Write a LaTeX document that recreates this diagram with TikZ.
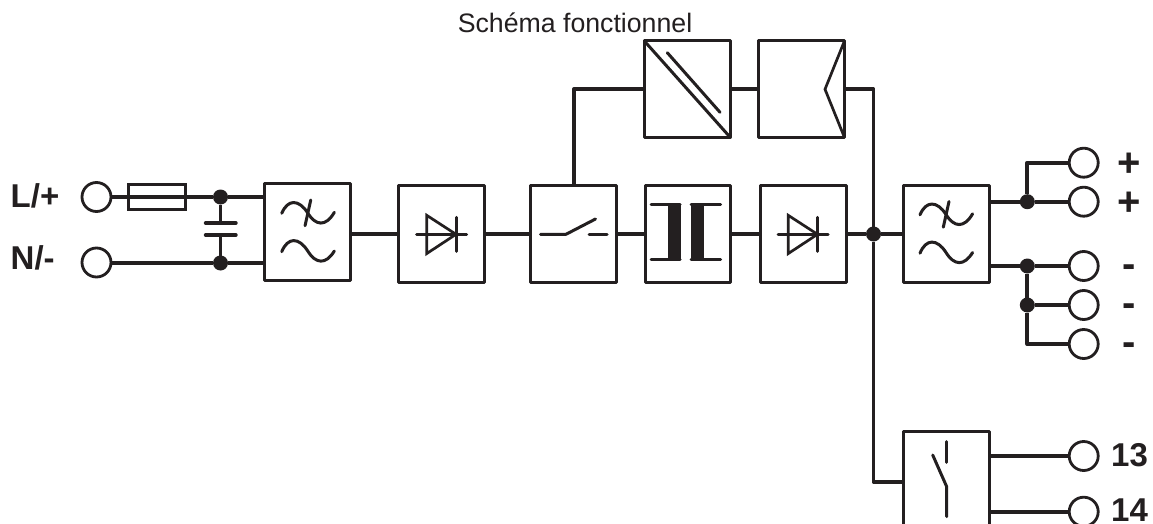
\documentclass[tikz,border=0pt]{standalone}
\usepackage{fontspec}
\setmainfont{Liberation Sans}
\definecolor{ink}{HTML}{231F20}
\tikzset{
  x=1pt,y=-1pt,
  blockbox/.style={draw=ink,line width=3pt,line join=round,minimum width=84pt,minimum height=94.5pt,inner sep=0pt,outer sep=0pt},
  wire/.style={draw=ink,line width=3.8pt,line join=round},
  sym/.style={draw=ink,line width=3pt,line join=round,line cap=round},
  thin sym/.style={draw=ink,line width=2.7pt,line join=miter},
  term/.style={circle,draw=ink,line width=2.8pt,fill=white,minimum size=29pt,inner sep=0pt,outer sep=0pt},
  dot/.style={circle,fill=ink,minimum size=15pt,inner sep=0pt,outer sep=0pt},
  lab/.style={font=\fontsize{33}{33}\selectfont\bfseries,text=ink,inner sep=0pt},
  biglab/.style={font=\fontsize{40}{40}\selectfont\bfseries,text=ink,inner sep=0pt},
  pics/filtersym/.style={code={
    \draw[sym] (-26,-18.7) .. controls (-20,-33) and (-9,-33) .. (0,-19) .. controls (8,-6) and (18,-5) .. (26.6,-19.7);
    \draw[sym] (3,-32) -- (-2.7,-6.3);
    \draw[sym] (-26,19.7) .. controls (-20,5) and (-9,5) .. (0,19) .. controls (8,32) and (18,33) .. (26.6,19);
  }},
  pics/diodesym/.style={code={
    \draw[thin sym] (-15.8,-19) -- (-15.8,19.3) -- (13.5,0) -- cycle;
    \draw[sym] (-25.8,0) -- (24.2,0);
    \draw[sym] (13.5,-17) -- (13.5,17);
  }}
}
\begin{document}
\begin{tikzpicture}
\useasboundingbox (0,0) rectangle (1153,524);
\fill[white] (0,0) rectangle (1153,524);

% terminals
\node[term] (tL) at (96.5,197) {};
\node[term] (tN) at (96.5,262.5) {};
\node[term] (o1) at (1083.7,162.7) {};
\node[term] (o2) at (1083.7,201.7) {};
\node[term] (o3) at (1083.7,266) {};
\node[term] (o4) at (1083.7,305) {};
\node[term] (o5) at (1083.7,344) {};
\node[term] (o6) at (1083.7,456) {};
\node[term] (o7) at (1083.7,511.7) {};

% blocks
\node[blockbox,minimum width=86pt,minimum height=96.5pt] (filtA) at (307.75,232) {};
\node[blockbox,minimum width=86pt,minimum height=96.5pt] (diodeA) at (441.75,234) {};
\node[blockbox,minimum width=85.5pt,minimum height=96.5pt] (switch) at (573.25,234) {};
\node[blockbox,minimum width=85.5pt,minimum height=96.5pt] (trafo) at (687.75,234) {};
\node[blockbox,minimum width=86pt,minimum height=96.5pt] (diodeB) at (803,234) {};
\node[blockbox,minimum width=86pt,minimum height=96.5pt] (filtB) at (946,234) {};
\node[blockbox,minimum width=86pt,minimum height=96.5pt] (conv) at (687.3,89.2) {};
\node[blockbox,minimum width=85.5pt,minimum height=96.5pt] (osc) at (801.7,89.2) {};
\node[minimum width=86pt,minimum height=93pt,inner sep=0pt,outer sep=0pt] (relay) at (946,477.5) {};
\draw[draw=ink,line width=3pt,line join=round] (relay.south west) -- (relay.north west) -- (relay.north east) -- (relay.south east);
\node[draw=ink,line width=3pt,minimum width=57pt,minimum height=25.5pt,inner sep=0pt,outer sep=0pt] (fuse) at (156.7,197) {};

% junctions
\node[dot] (jL) at (220.5,197) {};
\node[dot] (jN) at (220.5,263) {};
\node[dot] (jBus) at (873.5,234) {};
\node[dot] (jP) at (1027.3,201.7) {};
\node[dot] (jM1) at (1027.3,266) {};
\node[dot] (jM2) at (1027.3,305) {};
\coordinate (capT) at (220.5,223);
\coordinate (capB) at (220.5,235);
\coordinate (busTop) at (873.5,89.2);
\coordinate (busBot) at (873.5,481.7);
\coordinate (upL) at (574,89.2);

% connectors
\draw[wire] (tL.east) -- (jL);
\draw[wire] (jL) -- (filtA.west |- jL);
\draw[wire] (tN.east |- jN) -- (jN);
\draw[wire] (jN) -- (filtA.west |- jN);
\draw[wire] (jL) -- (capT);
\draw[wire] (capB) -- (jN);
\draw[wire] (filtA.east |- diodeA.west) -- (diodeA.west);
\draw[wire] (diodeA.east) -- (switch.west);
\draw[wire] (switch.east) -- (trafo.west);
\draw[wire] (trafo.east) -- (diodeB.west);
\draw[wire] (diodeB.east) -- (jBus);
\draw[wire] (jBus) -- (filtB.west);
\draw[wire] (switch.north -| upL) -- (upL) -- (conv.west);
\draw[wire] (conv.east) -- (osc.west);
\draw[wire] (osc.east) -- (busTop) -- (jBus);
\draw[wire] (jBus) -- (busBot) -- (relay.west |- busBot);
\draw[wire] (filtB.east |- jP) -- (jP);
\draw[wire] (jP) -- (o2.west);
\draw[wire] (jP) -- (jP |- o1) -- (o1.west);
\draw[wire] (filtB.east |- jM1) -- (jM1);
\draw[wire] (jM1) -- (o3.west);
\draw[wire] (jM1) -- (jM2);
\draw[wire] (jM2) -- (o4.west);
\draw[wire] (jM2) -- (jM2 |- o5) -- (o5.west);
\draw[wire] (relay.east |- o6) -- (o6.west);
\draw[wire] (relay.east |- o7) -- (o7.west);

% capacitor plates
\draw[sym,line width=3.4pt] (205.5,223) -- (236,223);
\draw[sym,line width=3.4pt] (205.5,235) -- (236,235);

% symbols
\pic at (307.75,232) {filtersym};
\pic at (946,233.5) {filtersym};
\pic at (442.5,234.3) {diodesym};
\pic at (804,234.3) {diodesym};
% switch
\draw[sym] (540.5,234.3) -- (566,234.3) -- (595.5,219);
\draw[sym] (589,234.3) -- (607,234.3);
% transformer
\draw[sym] (651,204.3) -- (680,204.3);
\draw[sym] (651,259.3) -- (680,259.3);
\draw[sym] (691,204.3) -- (720.5,204.3);
\draw[sym] (691,259.3) -- (720.5,259.3);
\fill[ink] (667.7,204.3) rectangle (681,259.3);
\fill[ink] (690.7,204.3) rectangle (704,259.3);
% DC/DC
\draw[sym] (conv.north west) -- (conv.south east);
\draw[sym] (667.3,52.7) -- (720,112.3);
% oscillator chevron
\draw[thin sym] (osc.north east) -- (825,89.3) -- (osc.south east);
% relay contact
\draw[sym] (946.7,441.7) -- (946.7,462.3);
\draw[sym] (932.7,455) -- (946.7,486.7) -- (946.7,516.7);

% labels
\node[font=\fontsize{26.7}{26.7}\selectfont,text=ink,inner sep=0pt,anchor=base] (title) at (575,33) {Schéma fonctionnel};
\node[lab,anchor=base west] (lL) at (10.5,207.5) {L/+};
\node[lab,anchor=base west] (lN) at (10.5,269.5) {N/-};
\node[biglab,anchor=base] (p1) at (1129,176.7) {+};
\node[biglab,anchor=base] (p2) at (1129,215.7) {+};
\node[biglab,anchor=base] (m1) at (1129,277) {-};
\node[biglab,anchor=base] (m2) at (1129,316) {-};
\node[biglab,anchor=base] (m3) at (1129,355) {-};
\node[lab,anchor=base west] (l13) at (1111,466) {13};
\node[lab,anchor=base west] (l14) at (1111,521) {14};
\end{tikzpicture}
\end{document}
